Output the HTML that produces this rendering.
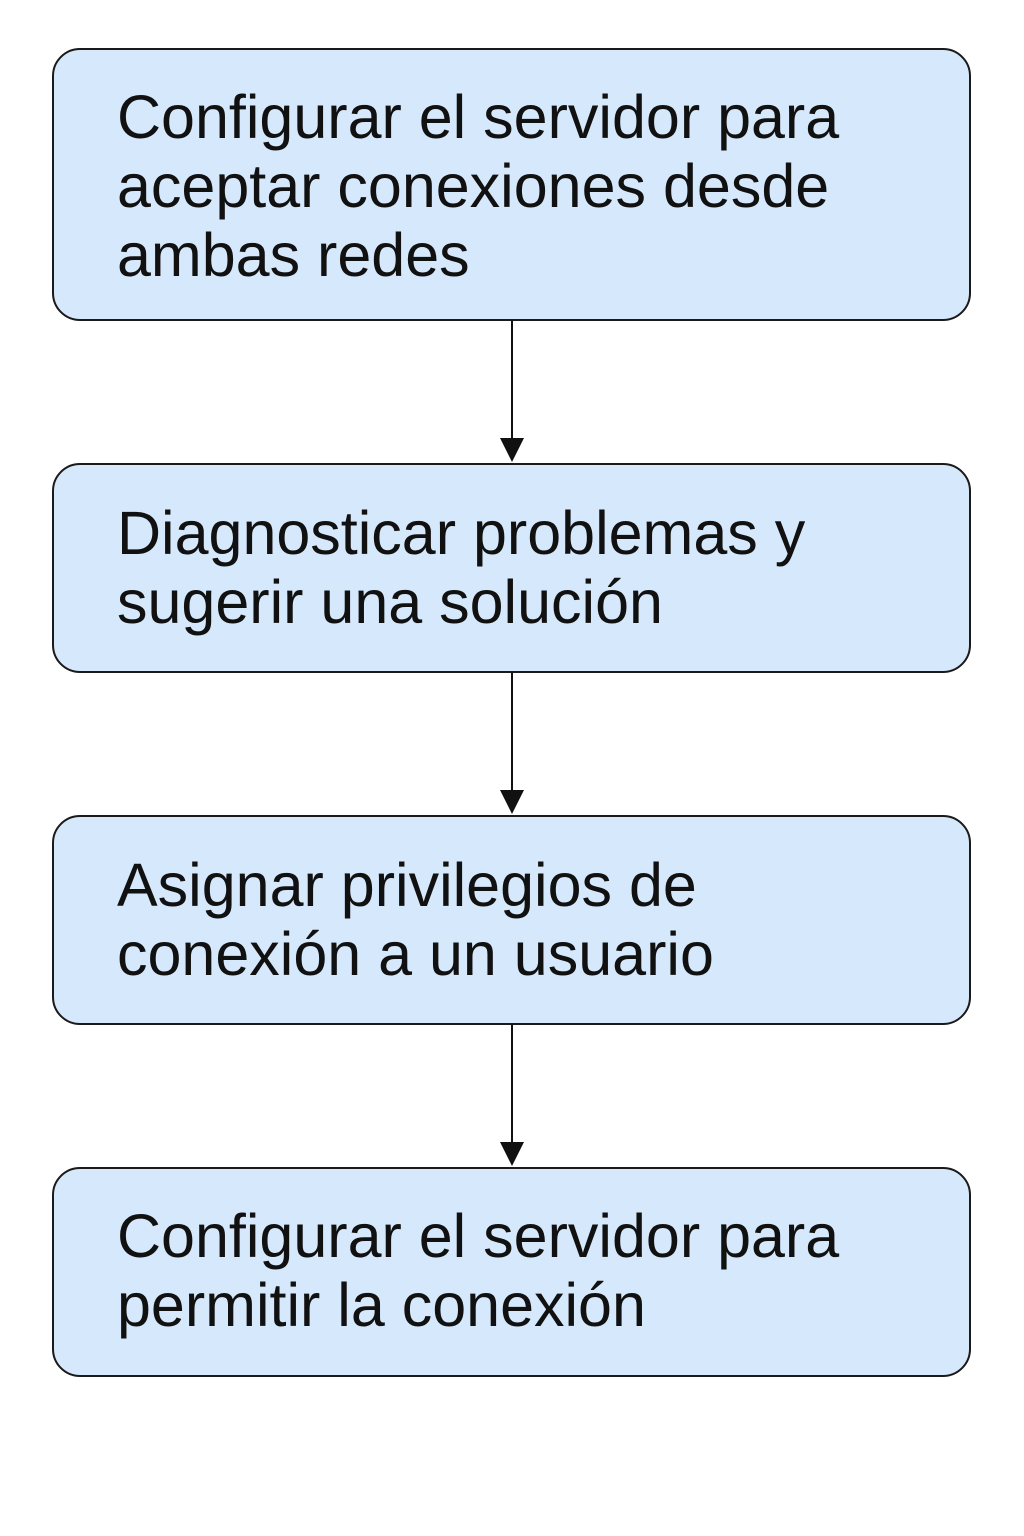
<!DOCTYPE html>
<html>
<head>
<meta charset="utf-8">
<style>
  html, body { margin:0; padding:0; background:#ffffff; }
  body { width:1024px; height:1536px; position:relative; overflow:hidden; }
  .box {
    position:absolute; left:52px; width:915px;
    background:#d6e8fb; border:2px solid #1a1a1a; border-radius:28px;
    box-sizing:content-box;
  }
  .t {
    position:absolute; left:117px;
    font-family:"Liberation Sans", sans-serif; font-size:61px; line-height:69px;
    color:#111; white-space:nowrap;
  }
  svg { position:absolute; left:0; top:0; }
</style>
</head>
<body>
<div class="box" style="top:48px;height:269px;"></div>
<div class="box" style="top:463px;height:206px;"></div>
<div class="box" style="top:815px;height:206px;"></div>
<div class="box" style="top:1167px;height:206px;"></div>

<div class="t" style="top:83px;">Configurar el servidor para<br>aceptar conexiones desde<br>ambas redes</div>
<div class="t" style="top:499px;">Diagnosticar problemas y<br>sugerir una solución</div>
<div class="t" style="top:851px;">Asignar privilegios de<br>conexión a un usuario</div>
<div class="t" style="top:1202px;">Configurar el servidor para<br>permitir la conexión</div>

<svg width="1024" height="1536">
  <g stroke="#111" stroke-width="2" fill="#111">
    <line x1="512" y1="320" x2="512" y2="442"/>
    <polygon points="500,438 524,438 512,462" stroke="none"/>
    <line x1="512" y1="672" x2="512" y2="794"/>
    <polygon points="500,790 524,790 512,814" stroke="none"/>
    <line x1="512" y1="1024" x2="512" y2="1146"/>
    <polygon points="500,1142 524,1142 512,1166" stroke="none"/>
  </g>
</svg>
</body>
</html>
